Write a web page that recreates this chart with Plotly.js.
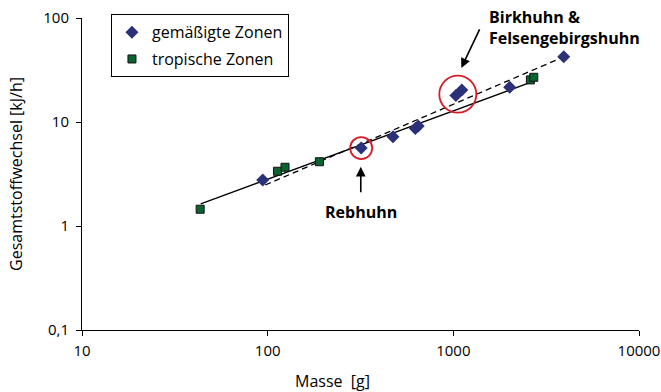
<!DOCTYPE html>
<html>
<head>
<meta charset="utf-8">
<script src="https://cdn.plot.ly/plotly-3.0.1.min.js"></script>
<style>html,body{margin:0;padding:0;background:#fff}</style>
</head>
<body>
<div id="chart" style="width:661px;height:392px"></div>
<script>
// Body mass [g] and total metabolism [kJ/h] of grouse species
const temperateMass = [94, 319, 473, 624, 647, 1032, 1111, 2012, 3933];
const temperateRate = [2.77, 5.62, 7.23, 8.66, 9.15, 17.98, 20.3, 21.6, 42.5];
const tropicalMass = [43.3, 113, 124, 190, 2600, 2711];
const tropicalRate = [1.45, 3.36, 3.67, 4.15, 25.4, 26.9];

// Regression lines, given by their end points
const fitAllMass = [43.6, 2667];
const fitAllRate = [1.63, 24.4];
const fitTemperateMass = [97, 3918];
const fitTemperateRate = [2.48, 42.2];

// Highlighted species: Rebhuhn, Birkhuhn & Felsengebirgshuhn
const highlightMass = [319, 1057];
const highlightRate = [5.62, 18.5];

const xTickVals = [10, 100, 1000, 10000];
const xTickText = ['10', '100', '1000', '10000'];
const yTickVals = [0.1, 1, 10, 100];
const yTickText = ['0,1', '1', '10', '100'];

const FONT = 'Open Sans, Noto Sans, sans-serif';

const traces = [
  {
    x: fitAllMass, y: fitAllRate, mode: 'lines', showlegend: false, hoverinfo: 'skip',
    line: {color: '#000', width: 1.3}
  },
  {
    x: fitTemperateMass, y: fitTemperateRate, mode: 'lines', showlegend: false, hoverinfo: 'skip',
    line: {color: '#000', width: 1.3, dash: '6px,4px'}
  },
  {
    x: temperateMass, y: temperateRate, mode: 'markers', name: 'gemäßigte Zonen',
    legendgroup: 'a',
    marker: {symbol: 'diamond', size: 10, color: '#2b3179', line: {width: 0}}
  },
  {
    x: tropicalMass, y: tropicalRate, mode: 'markers', name: 'tropische Zonen',
    legendgroup: 'b',
    marker: {symbol: 'square', size: 8, color: '#0b6332', line: {color: '#111', width: 1}}
  },
  {
    x: highlightMass, y: highlightRate, mode: 'markers', showlegend: false, hoverinfo: 'skip',
    marker: {symbol: 'circle-open', size: [22, 37], color: '#d51d27', opacity: 1,
             line: {color: '#d51d27', width: 1.8}}
  }
];

const arrowBase = {
  xref: 'paper', yref: 'paper', text: '', showarrow: true,
  arrowhead: 2, arrowsize: 1.2, arrowwidth: 1.6, arrowcolor: '#000'
};

const layout = {
  width: 661, height: 392,
  margin: {l: 82, r: 22, t: 18, b: 62},
  paper_bgcolor: '#fff', plot_bgcolor: '#fff',
  font: {family: FONT, color: '#000', size: 15},
  showlegend: true,
  legend: {
    x: 0.052, y: 1.012, xanchor: 'left', yanchor: 'top',
    bordercolor: '#000', borderwidth: 1, bgcolor: '#fff',
    font: {family: FONT, size: 16, color: '#000'},
    tracegroupgap: 3, itemwidth: 30
  },
  xaxis: {
    type: 'log', range: [1, 4],
    tickvals: xTickVals, ticktext: xTickText,
    ticks: 'outside', ticklen: 5, tickcolor: '#000', tickwidth: 1,
    showline: true, linecolor: '#000', linewidth: 1,
    showgrid: false, zeroline: false,
    tickfont: {size: 15}, ticklabelstandoff: 2
  },
  yaxis: {
    type: 'log', range: [-1, 2],
    tickvals: yTickVals, ticktext: yTickText,
    ticks: 'outside', ticklen: 5, tickcolor: '#000', tickwidth: 1,
    showline: true, linecolor: '#000', linewidth: 1,
    showgrid: false, zeroline: false,
    tickfont: {size: 15}, ticklabelstandoff: 4,
    title: {text: 'Gesamtstoffwechsel [kJ/h]', font: {size: 16}, standoff: 16}
  },
  annotations: [
    Object.assign({}, arrowBase, {x: 0.5005, y: 0.523, ax: 0, ay: 27}),
    Object.assign({}, arrowBase, {x: 0.681, y: 0.840, ax: 19, ay: -40}),
    {
      xref: 'paper', yref: 'paper', x: 0.5, y: 0.379, xanchor: 'center', yanchor: 'middle',
      showarrow: false, text: '<b>Rebhuhn</b>', font: {family: FONT, size: 16}
    },
    {
      xref: 'paper', yref: 'paper', x: 0.727, y: 1.045, xanchor: 'left', yanchor: 'top',
      showarrow: false, align: 'left',
      text: '<b>Birkhuhn &amp;<br>Felsengebirgshuhn</b>', font: {family: FONT, size: 16}
    },
    {
      // x axis title
      xref: 'paper', yref: 'paper', x: 0.4506, y: -0.163, xanchor: 'center', yanchor: 'middle',
      showarrow: false, text: 'Masse\u00a0\u00a0[g]', font: {family: FONT, size: 16}
    }
  ]
};

Plotly.newPlot('chart', traces, layout, {displayModeBar: false, staticPlot: true});
</script>
</body>
</html>
